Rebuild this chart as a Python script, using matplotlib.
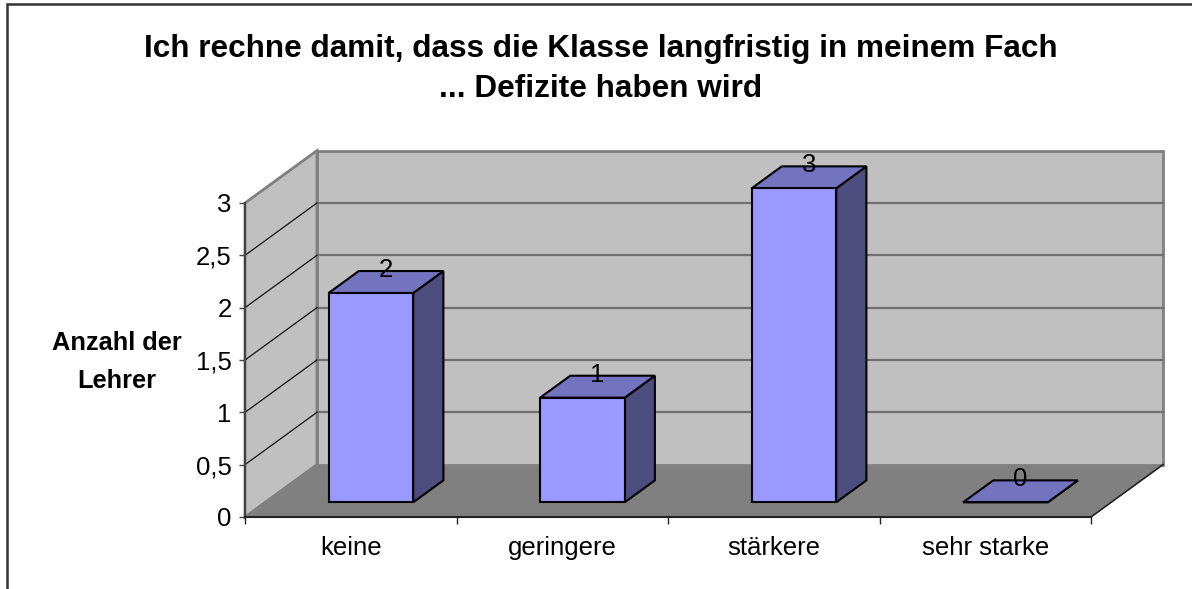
import matplotlib
matplotlib.use("Agg")
import matplotlib.pyplot as plt
from matplotlib.patches import Polygon, Rectangle

# data
categories = ["keine", "geringere", "stärkere", "sehr starke"]
values = [2, 1, 3, 0]
y_ticks = [0, 0.5, 1, 1.5, 2, 2.5, 3]
y_tick_labels = ["0", "0,5", "1", "1,5", "2", "2,5", "3"]
title = "Ich rechne damit, dass die Klasse langfristig in meinem Fach\n... Defizite haben wird"
y_label = "Anzahl der\nLehrer"

plt.rcParams["font.family"] = ["Liberation Sans", "DejaVu Sans"]

# 3d look: depth offset of the back plane (category units, value units)
DX, DY = 0.34, 0.5
F0, F1 = 0.28, 0.70      # front / back of the bars as fraction of the depth
BAR_W = 0.4

wall = "#c0c0c0"
floor = "#808080"
edge = "#808080"
c_front, c_top, c_side = "#9999ff", "#7373bf", "#4d4d80"

W, H = 1192, 589
fig = plt.figure(figsize=(W / 100, H / 100), dpi=100)
ax = fig.add_axes([245 / W, 72 / H, 846 / W, 314 / H])
ax.set_xlim(0, len(categories))
ax.set_ylim(0, max(y_ticks))
ax.set_facecolor("none")

n = len(categories)
top = max(y_ticks)

# walls and floor
ax.add_patch(Polygon([(DX, DY), (n + DX, DY), (n + DX, top + DY), (DX, top + DY)],
                     closed=True, fc=wall, ec=edge, lw=2, clip_on=False, zorder=1))
ax.add_patch(Polygon([(0, 0), (0, top), (DX, top + DY), (DX, DY)],
                     closed=True, fc=wall, ec=edge, lw=2, clip_on=False, zorder=1))
ax.add_patch(Polygon([(0, 0), (n, 0), (n + DX, DY), (DX, DY)],
                     closed=True, fc=floor, ec="none", clip_on=False, zorder=2))
ax.plot([n, n + DX], [0, DY], color="#222222", lw=1.2, clip_on=False, zorder=2)

# gridlines on back wall and side wall
for v in y_ticks[1:-1]:
    ax.plot([DX, n + DX], [v + DY, v + DY], color="#707070", lw=1.6, clip_on=False, zorder=1.5)
    ax.plot([0, DX], [v, v + DY], color="#111111", lw=0.9, clip_on=False, zorder=1.5)

# bars
ddx, ddy = (F1 - F0) * DX, (F1 - F0) * DY
for i, v in enumerate(values):
    x0 = i + 0.5 - BAR_W / 2 + F0 * DX
    y0 = F0 * DY
    ax.add_patch(Polygon([(x0 + BAR_W, y0), (x0 + BAR_W, y0 + v),
                          (x0 + BAR_W + ddx, y0 + v + ddy), (x0 + BAR_W + ddx, y0 + ddy)],
                         closed=True, fc=c_side, ec="black", lw=1.5, clip_on=False, zorder=3))
    ax.add_patch(Polygon([(x0, y0 + v), (x0 + BAR_W, y0 + v),
                          (x0 + BAR_W + ddx, y0 + v + ddy), (x0 + ddx, y0 + v + ddy)],
                         closed=True, fc=c_top, ec="black", lw=1.5, clip_on=False, zorder=3))
    ax.add_patch(Rectangle((x0, y0), BAR_W, v, fc=c_front, ec="black", lw=1.5,
                           clip_on=False, zorder=4))
    ax.text(x0 + BAR_W / 2 + ddx / 2, y0 + v + ddy / 2, str(v), ha="center", va="bottom",
            fontsize=18.5, zorder=5)

# axes
for s in ["top", "right"]:
    ax.spines[s].set_visible(False)
ax.spines["left"].set_color("#444444")
ax.spines["left"].set_linewidth(1.5)
ax.spines["bottom"].set_color("#222222")
ax.spines["bottom"].set_linewidth(1.5)
ax.spines["left"].set_zorder(6)
ax.spines["bottom"].set_zorder(6)

ax.set_yticks(y_ticks)
ax.set_yticklabels(y_tick_labels, fontsize=18.5)
ax.tick_params(axis="y", length=4, width=1, color="#444444", pad=5.5)

ax.set_xticks([i + 0.5 for i in range(n)])
ax.set_xticklabels(categories, fontsize=18.5)
ax.set_xticks(range(n + 1), minor=True)
ax.tick_params(axis="x", which="major", length=0, pad=14)
ax.tick_params(axis="x", which="minor", length=5, width=1, color="#222222")

fig.text(601 / W, 1 - 69 / H, title, ha="center", va="center", fontsize=22.7,
         fontweight="bold", linespacing=1.45)
fig.text(117 / W, 1 - 362 / H, y_label, ha="center", va="center", fontsize=18.3,
         fontweight="bold", linespacing=1.7)

# outer chart border
fig.add_artist(Rectangle((7 / W, -0.1), 1.2, 1 - 4.5 / H + 0.1, transform=fig.transFigure,
                         fill=False, ec="#333333", lw=1.8))

fig.savefig("out.png", dpi=100)
